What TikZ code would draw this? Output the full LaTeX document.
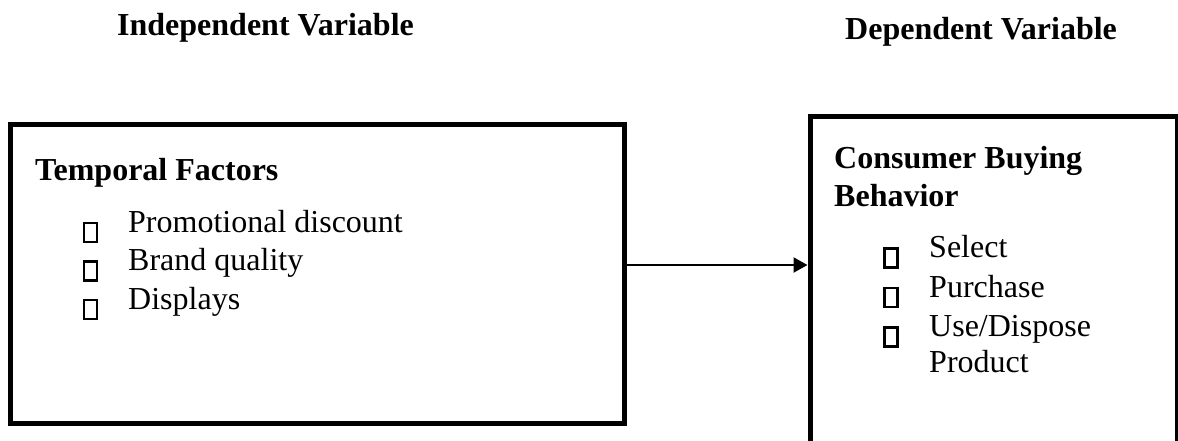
\documentclass[tikz,border=0pt]{standalone}
\usepackage{fontspec}
\setmainfont{Liberation Serif}
\usetikzlibrary{arrows.meta}

\tikzset{
  varbox/.style={draw, line width=5pt, minimum width=#1, inner sep=0pt},
  heading/.style={anchor=base west, inner sep=0pt, font=\fontsize{32}{38}\selectfont\bfseries},
  itemtext/.style={anchor=base west, inner sep=0pt, align=left, font=\fontsize{32}{36}\selectfont},
  bulletbox/.style={draw, line width=2.2pt, minimum width=13pt, minimum height=19pt, inner sep=0pt},
  link/.style={line width=2.2pt, -{Triangle[length=14pt, width=15pt]}}
}

\begin{document}
\begin{tikzpicture}[x=1pt, y=-1pt]
  \useasboundingbox (0,0) rectangle (1178,440);
  \clip (0,0) rectangle (1178,440);

  % column titles
  \node[heading] (indeptitle) at (117,35) {Independent Variable};
  \node[heading] (deptitle) at (845,39) {Dependent Variable};

  % the two variable boxes
  \node[varbox=614pt, minimum height=299pt] (indep) at (317,273.5) {};
  \node[varbox=367.5pt, minimum height=334pt] (dep) at (993.75,283) {};

  % independent variable contents
  \node[heading] (temporal) at (35,180) {Temporal Factors};
  \node[bulletbox] (b1) at (90.5,232.5) {};
  \node[bulletbox] (b2) at (90.5,271) {};
  \node[bulletbox] (b3) at (90.5,309.5) {};
  \node[itemtext] (promo) at (128,232) {Promotional discount};
  \node[itemtext] (brand) at (128,270.5) {Brand quality};
  \node[itemtext] (disp) at (128,309) {Displays};

  % dependent variable contents
  \node[heading] (consumer) at (834,168) {Consumer Buying};
  \node[heading] (behavior) at (834,206) {Behavior};
  \node[bulletbox] (c1) at (891,258) {};
  \node[bulletbox] (c2) at (891,297.5) {};
  \node[bulletbox] (c3) at (891,337) {};
  \node[itemtext] (select) at (929,257) {Select};
  \node[itemtext] (purchase) at (929,297) {Purchase};
  \node[itemtext] (usedisp) at (929,336) {Use/Dispose};
  \node[itemtext] (product) at (929,372) {Product};

  % relation between the variables
  \coordinate (linky) at (0,265);
  \draw[link] (indep.east |- linky) -- (dep.west |- linky);
\end{tikzpicture}
\end{document}
